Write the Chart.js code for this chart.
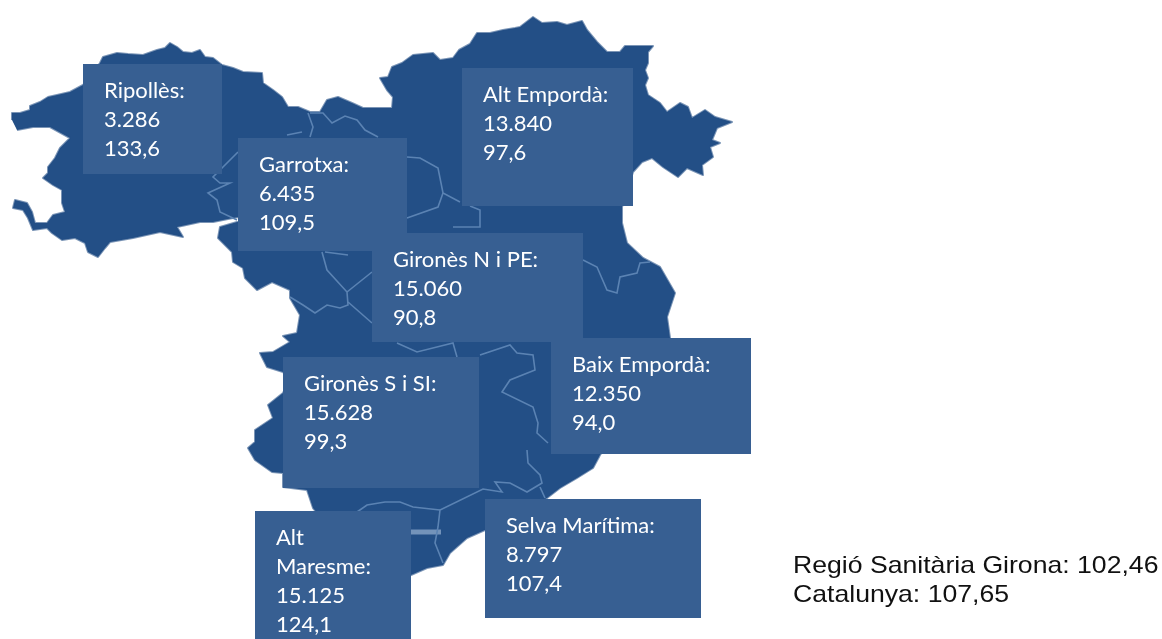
<!DOCTYPE html>
<html><head><meta charset="utf-8">
<style>html,body{margin:0;padding:0;background:#fff}canvas{display:block}</style>
<script src="https://cdn.jsdelivr.net/npm/chart.js@4/dist/chart.umd.min.js"></script>
</head><body><canvas id="c" width="1162" height="639"></canvas>
<script>
const regions=['Ripollès:','Garrotxa:','Alt Empordà:','Gironès N i PE:','Baix Empordà:','Gironès S i SI:','Alt Maresme:','Selva Marítima:'];
const populations=[3286,6435,13840,15060,12350,15628,15125,8797];
const rates=[133.6,109.5,97.6,90.8,94.0,99.3,124.1,107.4];
const summaryLabels=['Regió Sanitària Girona','Catalunya'];
const summaryValues=[102.46,107.65];
const outline=[[12,120],[12,113],[20,113],[30,110],[30,106],[40,102],[48,97],[57,95],[70,92],[83,85],[100,63],[103,57],[117,53],[128,54],[143,55],[157,50],[165,48],[170,43],[177,47],[183,52],[192,53],[200,50],[205,57],[213,58],[222,65],[233,68],[243,72],[262,73],[263,83],[273,90],[282,97],[288,107],[298,107],[310,112],[320,112],[327,100],[338,97],[352,103],[363,108],[392,108],[393,97],[387,90],[380,78],[388,77],[392,67],[402,63],[413,55],[433,53],[440,60],[453,58],[459,50],[470,44],[477,33],[490,33],[503,30],[515,28],[520,27],[533,17],[542,23],[557,22],[567,25],[582,21],[587,30],[597,42],[607,52],[620,52],[625,46],[653,46],[648,52],[648,63],[645,70],[648,78],[645,85],[648,95],[660,103],[667,112],[680,103],[688,107],[692,118],[705,110],[715,117],[732,122],[717,128],[712,140],[720,143],[710,147],[713,157],[702,165],[703,175],[687,168],[678,177],[663,167],[652,158],[642,162],[633,172],[622,207],[622,223],[627,243],[643,258],[660,267],[675,293],[667,317],[670,338],[640,400],[600,455],[593,468],[577,478],[560,488],[547,498],[485,530],[467,538],[450,553],[443,565],[427,568],[411,575],[395,580],[340,540],[313,508],[307,490],[283,487],[283,473],[272,472],[255,460],[248,448],[255,442],[255,430],[273,418],[268,405],[283,393],[290,380],[283,372],[267,367],[260,353],[273,352],[290,342],[283,336],[297,333],[300,315],[290,298],[290,290],[272,282],[257,290],[245,278],[243,268],[233,262],[232,252],[218,238],[220,227],[237,222],[245,222],[245,216],[233,218],[213,222],[200,222],[177,227],[183,237],[160,232],[133,238],[110,242],[105,248],[98,257],[88,252],[85,243],[75,238],[62,240],[52,233],[47,228],[33,230],[28,218],[23,210],[13,208],[15,200],[27,203],[32,212],[35,223],[47,223],[53,215],[65,212],[62,203],[62,190],[53,185],[43,178],[48,173],[48,167],[55,158],[60,148],[70,138],[50,127],[33,127],[17,130]];
const borders=[
[[308,113],[313,127],[310,137]],
[[302,132],[287,135]],
[[238,152],[223,167],[213,177],[220,183],[230,183],[208,193],[217,200],[220,212],[237,220]],
[[310,113],[323,113],[332,123],[345,116],[357,120],[365,130],[378,137]],
[[322,252],[327,270],[347,292],[348,305],[340,308],[327,305],[315,313],[303,305],[290,297]],
[[348,302],[372,323]],
[[347,292],[372,272]],
[[325,252],[348,255]],
[[407,157],[420,158],[438,168],[443,193],[460,202]],
[[407,218],[438,207],[443,193]],
[[470,206],[480,210],[480,227],[453,227]],
[[583,260],[597,267],[607,290],[617,293],[620,277],[637,273],[640,263],[650,262]],
[[397,343],[417,352],[453,343],[457,357]],
[[480,355],[510,345],[517,353],[533,355],[535,370],[510,380],[502,392],[533,407],[538,423],[537,433],[548,443]],
[[527,450],[528,463],[540,475],[542,483],[527,492],[510,483],[495,482],[502,492],[483,489],[440,510],[438,527],[435,543],[443,563]],
[[540,487],[545,498]],
[[440,510],[413,507],[400,502],[385,502],[367,505],[357,512]]
];
const blob=[[411,532],[441,532]];
const boxes=[[83,64,222,174],[238,138,407,251],[462,68,633,206],[372,233,583,342],[551,338,751,454],[283,357,479,488],[255,511,411,639],[485,499,701,618]];
const pts=a=>a.map(p=>({x:p[0],y:p[1]}));
const line=(d,c,w,o)=>({data:pts(d),showLine:true,fill:false,tension:0,pointRadius:0,borderColor:c,borderWidth:w,order:o});
const datasets=[{data:pts(outline),showLine:true,fill:'shape',tension:0,pointRadius:0,borderColor:'rgba(35,79,134,0.6)',backgroundColor:'#234f86',borderWidth:2,borderJoinStyle:'round',order:5}]
 .concat(borders.map(b=>line(b,'#5b83b3',1.6,1)),[line(blob,'#7393ba',5,1)]);
const fmtPop=n=>String(n).replace(/\B(?=(\d{3})+$)/g,'.');
const fmtDec=(n,d)=>n.toFixed(d).replace('.',',');
const annotate={id:'annotate',afterDatasetsDraw(chart){
 const {ctx,scales:{x,y}}=chart;ctx.save();
 regions.forEach((r,i)=>{
  const [x0,y0,x1,y1]=boxes[i],px0=x.getPixelForValue(x0),py0=y.getPixelForValue(y0),px1=x.getPixelForValue(x1),py1=y.getPixelForValue(y1);
  ctx.fillStyle='#375f92';ctx.fillRect(px0,py0,px1-px0,py1-py0);
 });
 ctx.fillStyle='#ffffff';ctx.font='22px Lato';ctx.textBaseline='alphabetic';
 regions.forEach((r,i)=>{
  const [x0,y0,x1]=boxes[i],tx=x.getPixelForValue(x0)+21,w=x.getPixelForValue(x1)-x.getPixelForValue(x0)-40;
  const head=ctx.measureText(r).width>w?r.split(' '):[r];
  const lines=head.concat([fmtPop(populations[i]),fmtDec(rates[i],1)]);
  lines.forEach((t,k)=>ctx.fillText(t,tx,y.getPixelForValue(y0)+34+k*29));
 });
 ctx.fillStyle='#111111';ctx.font='24px "Liberation Sans"';
 summaryLabels.forEach((l,i)=>{
  ctx.save();ctx.translate(x.getPixelForValue(793),y.getPixelForValue(573+i*29));ctx.scale(1.109,1);
  ctx.fillText(l+': '+fmtDec(summaryValues[i],2),0,0);ctx.restore();
 });
 ctx.restore();
}};
new Chart(document.getElementById('c'),{type:'scatter',data:{datasets},plugins:[annotate],options:{responsive:false,animation:false,layout:{padding:0},
 plugins:{legend:{display:false},tooltip:{enabled:false},title:{display:false}},
 scales:{x:{type:'linear',min:0,max:1162,display:false},y:{type:'linear',min:0,max:639,reverse:true,display:false}}}});
</script></body></html>
